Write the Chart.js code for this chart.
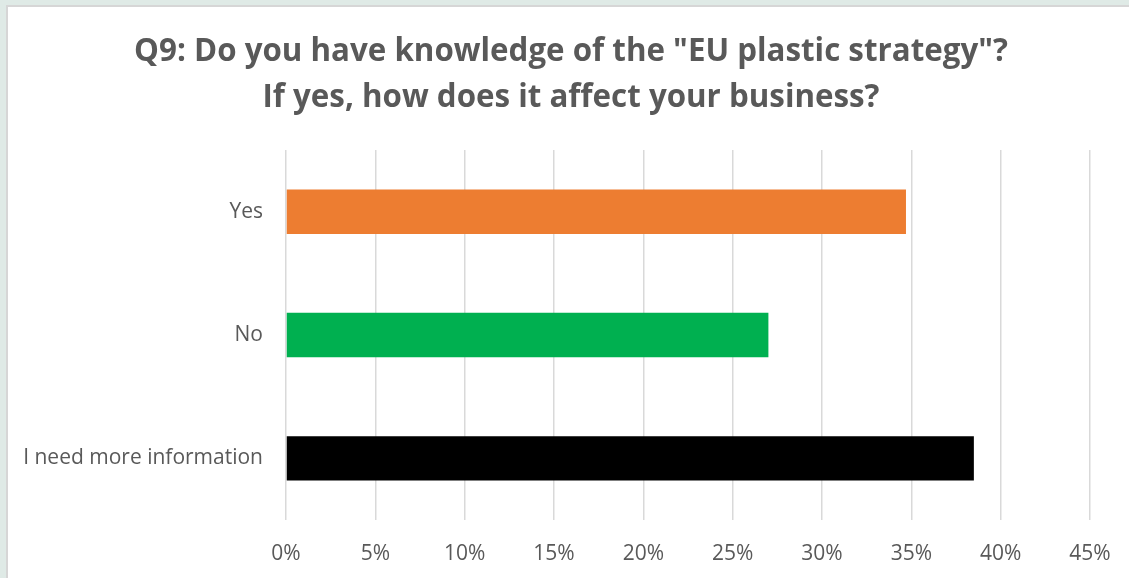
<!DOCTYPE html>
<html>
<head>
<meta charset="utf-8">
<script src="https://cdn.jsdelivr.net/npm/chart.js@4.4.1/dist/chart.umd.min.js"></script>
<style>
  html, body { margin: 0; padding: 0; background: #dfeae6; overflow: hidden; width: 1129px; height: 578px; }
  #panel {
    position: absolute; left: 6px; top: 5px; width: 1123px; height: 573px;
    background: #ffffff; border-left: 2px solid #d6d6d6; border-top: 2px solid #d6d6d6;
    box-sizing: border-box;
  }
  /* the canvas runs a little past the right edge so the title sits centred on the panel */
  #wrap { position: absolute; left: 0; top: 0; width: 1142px; height: 578px; }
</style>
</head>
<body>
<div id="panel"></div>
<div id="wrap"><canvas id="chart" width="1142" height="578"></canvas></div>
<script>
const categories = ["Yes", "No", "I need more information"];
const shares = [34.7, 27.0, 38.5];
const barColors = ["#ed7d31", "#00b050", "#000000"];
const tickValues = [0, 5, 10, 15, 20, 25, 30, 35, 40, 45];
const titleLines = ['Q9: Do you have knowledge of the "EU plastic strategy"?', 'If yes, how does it affect your business?'];

const textColor = "#595959";
const family = "'Open Sans', 'Noto Sans', sans-serif";

new Chart(document.getElementById("chart"), {
  type: "bar",
  data: {
    labels: categories,
    datasets: [{
      data: shares,
      backgroundColor: barColors,
      borderWidth: 0,
      barPercentage: 0.6,
      categoryPercentage: 0.6
    }]
  },
  options: {
    indexAxis: "y",
    responsive: false,
    animation: false,
    layout: { padding: 0 },
    plugins: {
      legend: { display: false },
      tooltip: { enabled: false },
      title: {
        display: true,
        text: titleLines,
        color: textColor,
        font: { family: family, size: 31.3, weight: "bold", lineHeight: 1.47 },
        padding: { top: 29, bottom: 29 }
      }
    },
    scales: {
      x: {
        min: 0,
        max: 45,
        afterBuildTicks: (scale) => { scale.ticks = tickValues.map(v => ({ value: v })); },
        afterFit: (scale) => { scale.height = 58; },
        border: { display: false },
        grid: { color: "#d9d9d9", lineWidth: 1.5, drawTicks: false },
        ticks: {
          color: textColor,
          font: { family: family, size: 21 },
          padding: 21,
          callback: (v) => v + "%"
        }
      },
      y: {
        afterFit: (scale) => { scale.width = 286; },
        border: { display: false },
        grid: { display: false, drawTicks: false },
        ticks: {
          color: textColor,
          font: { family: family, size: 21 },
          padding: 23
        }
      },
      // empty right-hand margin next to the plot
      yRight: {
        type: "linear",
        position: "right",
        afterFit: (scale) => { scale.width = 52; },
        border: { display: false },
        grid: { display: false, drawTicks: false },
        ticks: { display: false }
      }
    }
  }
});
</script>
</body>
</html>
